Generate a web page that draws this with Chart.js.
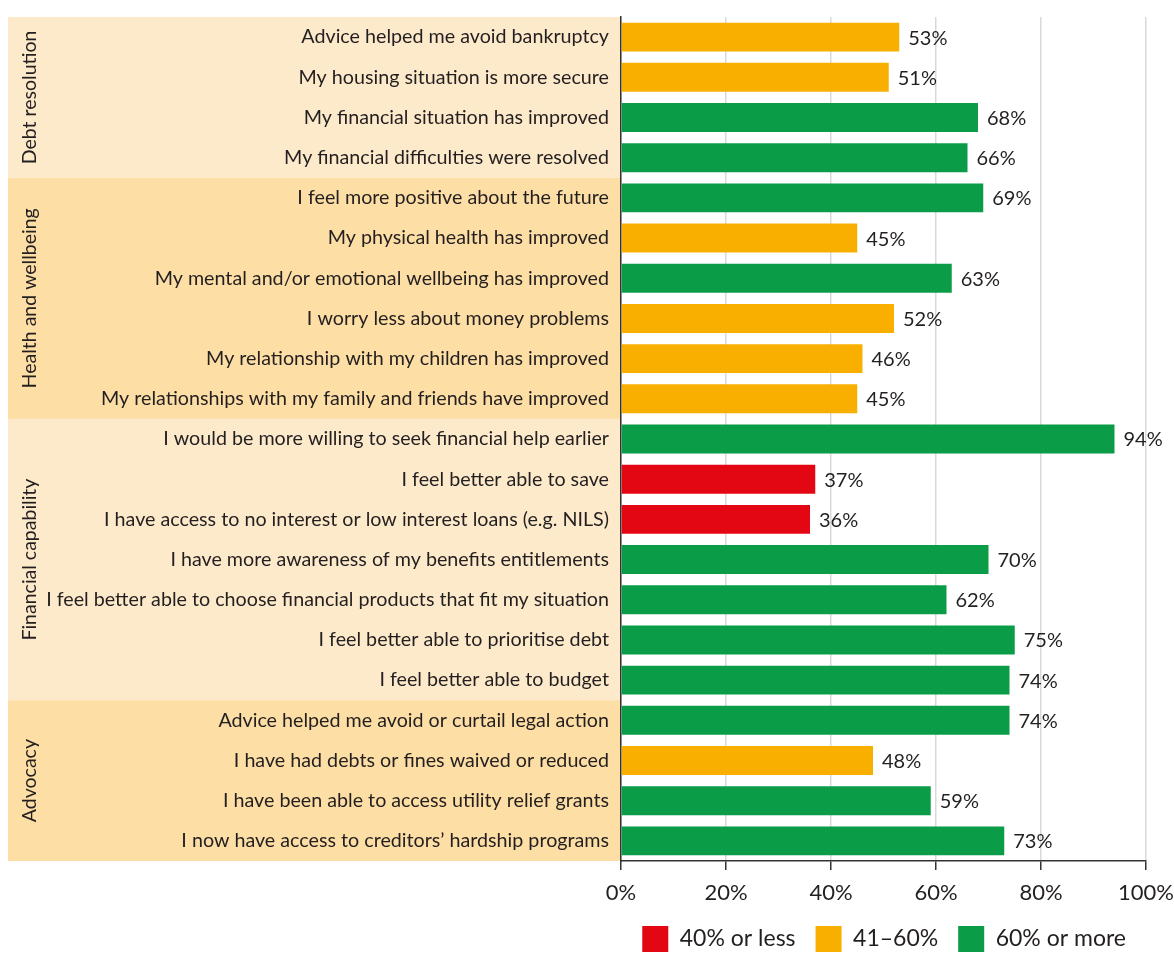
<!DOCTYPE html>
<html>
<head>
<meta charset="utf-8">
<script src="https://cdn.jsdelivr.net/npm/chart.js@4.4.1/dist/chart.umd.min.js"></script>
<style>
  html,body{margin:0;padding:0;background:#fff;}
  #wrap{width:1174px;height:956px;position:relative;}
</style>
</head>
<body>
<div id="wrap"><canvas id="c" width="1174" height="956"></canvas></div>
<script>
const categories = [
  "Advice helped me avoid bankruptcy",
  "My housing situation is more secure",
  "My financial situation has improved",
  "My financial difficulties were resolved",
  "I feel more positive about the future",
  "My physical health has improved",
  "My mental and/or emotional wellbeing has improved",
  "I worry less about money problems",
  "My relationship with my children has improved",
  "My relationships with my family and friends have improved",
  "I would be more willing to seek financial help earlier",
  "I feel better able to save",
  "I have access to no interest or low interest loans (e.g. NILS)",
  "I have more awareness of my benefits entitlements",
  "I feel better able to choose financial products that fit my situation",
  "I feel better able to prioritise debt",
  "I feel better able to budget",
  "Advice helped me avoid or curtail legal action",
  "I have had debts or fines waived or reduced",
  "I have been able to access utility relief grants",
  "I now have access to creditors\u2019 hardship programs"
];
const values = [53, 51, 68, 66, 69, 45, 63, 52, 46, 45, 94, 37, 36, 70, 62, 75, 74, 74, 48, 59, 73];
// colour band of each bar as shown in the source (0 = 40% or less, 1 = 41–60%, 2 = 60% or more)
const bands = [1, 1, 2, 2, 2, 1, 2, 1, 1, 1, 2, 0, 0, 2, 2, 2, 2, 2, 1, 2, 2];
const groupNames = ["Debt resolution", "Health and wellbeing", "Financial capability", "Advocacy"];
const groupSizes = [4, 6, 7, 4];
const bandNames = ["40% or less", "41\u201360%", "60% or more"];
const xTicks = [0, 20, 40, 60, 80, 100];

const bandColors = ["#E30613", "#F8AF00", "#0A9C47"];
const groupBg = ["#FDEACB", "#FDDEA5"];
const textColor = "#231F20";
const FONT = "Lato, 'Open Sans', sans-serif";

const datasets = bandNames.map((name, b) => ({
  label: name,
  data: values.map((v, i) => bands[i] === b ? v : null),
  backgroundColor: bandColors[b],
  borderWidth: 0,
  barPercentage: 0.72,
  categoryPercentage: 1.0
}));

const bgPlugin = {
  id: 'groupBg',
  beforeDraw(chart){
    const {ctx, chartArea, scales:{y}} = chart;
    const step = (y.getPixelForValue(1) - y.getPixelForValue(0));
    let idx = 0;
    groupSizes.forEach((sz, g) => {
      const top = y.getPixelForValue(idx) - step/2;
      const bot = y.getPixelForValue(idx+sz-1) + step/2;
      ctx.save();
      ctx.fillStyle = groupBg[g % 2];
      ctx.fillRect(8, top, chartArea.left - 8, bot - top);
      ctx.translate(30, (top+bot)/2);
      ctx.rotate(-Math.PI/2);
      ctx.fillStyle = textColor;
      ctx.font = "19.5px " + FONT;
      ctx.textAlign = "center";
      ctx.textBaseline = "middle";
      ctx.fillText(groupNames[g], 0, 0);
      ctx.restore();
      idx += sz;
    });
  }
};

const valuePlugin = {
  id: 'valueLabels',
  afterDatasetsDraw(chart){
    const {ctx} = chart;
    ctx.save();
    ctx.font = "20px " + FONT;
    ctx.fillStyle = textColor;
    ctx.textAlign = "left";
    ctx.textBaseline = "middle";
    chart.data.datasets.forEach((ds, di) => {
      const meta = chart.getDatasetMeta(di);
      meta.data.forEach((el, i) => {
        if (ds.data[i] == null) return;
        ctx.fillText(ds.data[i] + "%", el.x + 9, el.y + 1);
      });
    });
    ctx.restore();
  }
};

new Chart(document.getElementById('c'), {
  type: 'bar',
  data: { labels: categories, datasets },
  options: {
    indexAxis: 'y',
    responsive: false,
    animation: false,
    layout: { padding: { top: 17, right: 28, left: 0, bottom: 0 } },
    scales: {
      x: {
        min: 0, max: 100,
        afterBuildTicks(scale){ scale.ticks = xTicks.map(v => ({value: v})); },
        ticks: { callback: v => v + '%', color: textColor, font: { size: 22, family: FONT }, padding: 10, maxRotation: 0 },
        grid: { color: '#D9D9D9', lineWidth: 1.5, tickLength: 9, tickColor: '#333', drawOnChartArea: true },
        border: { color: '#333', width: 1.5 },
        afterFit(scale){ scale.height = 45; scale.paddingLeft = 0; scale.paddingRight = 0; }
      },
      y: {
        stacked: true,
        ticks: { color: textColor, font: { size: 19.7, family: FONT }, padding: 12, autoSkip: false },
        grid: { display: false, drawTicks: false },
        border: { display: true, color: '#333', width: 1.5 },
        afterFit(scale){ scale.width = 621; scale.paddingTop = 0; scale.paddingBottom = 0; }
      }
    },
    plugins: {
      legend: {
        position: 'bottom',
        fullSize: true,
        align: 'end',
        maxHeight: 50,
        labels: { boxWidth: 26, boxHeight: 26, color: textColor, font: { size: 23, family: FONT }, padding: 20 }
      },
      tooltip: { enabled: false }
    }
  },
  plugins: [bgPlugin, valuePlugin]
});
</script>
</body>
</html>
